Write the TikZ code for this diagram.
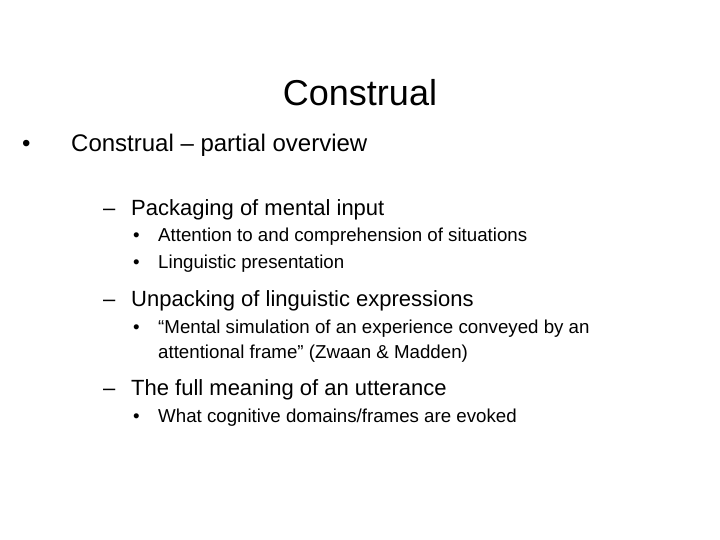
\documentclass[tikz,border=0pt]{standalone}
\usepackage{fontspec}
\setmainfont{Liberation Sans}
\begin{document}
\begin{tikzpicture}[x=1pt,y=-1pt,
  t/.style={anchor=base west,inner sep=0pt},
  top/.style={t,font=\fontsize{24}{28}\selectfont},
  big/.style={t,font=\fontsize{22}{26}\selectfont},
  small/.style={t,font=\fontsize{18.7}{22}\selectfont}]
\useasboundingbox (0,0) rectangle (720,540);
\node[anchor=base,inner sep=0pt,font=\fontsize{36}{42}\selectfont] (title) at (360,106) {Construal};
\node[top] (b1) at (22,151.5) {•};
\node[top] (l1) at (71,151.5) {Construal – partial overview};
\node[big] (d1) at (103,215) {–};
\node[big] (l2) at (131,215) {Packaging of mental input};
\node[small] (s1b) at (133,241.5) {•};
\node[small] (s1) at (158,241.5) {Attention to and comprehension of situations};
\node[small] (s2b) at (133,268.5) {•};
\node[small] (s2) at (158,268.5) {Linguistic presentation};
\node[big] (d2) at (103,306) {–};
\node[big] (l3) at (131,306) {Unpacking of linguistic expressions};
\node[small] (s3b) at (133,333.5) {•};
\node[small] (s3) at (158,333.5) {“Mental simulation of an experience conveyed by an};
\node[small] (s3c) at (158,358.5) {attentional frame” (Zwaan \& Madden)};
\node[big] (d3) at (103,395) {–};
\node[big] (l4) at (131,395) {The full meaning of an utterance};
\node[small] (s4b) at (133,422.5) {•};
\node[small] (s4) at (158,422.5) {What cognitive domains/frames are evoked};
\end{tikzpicture}
\end{document}
